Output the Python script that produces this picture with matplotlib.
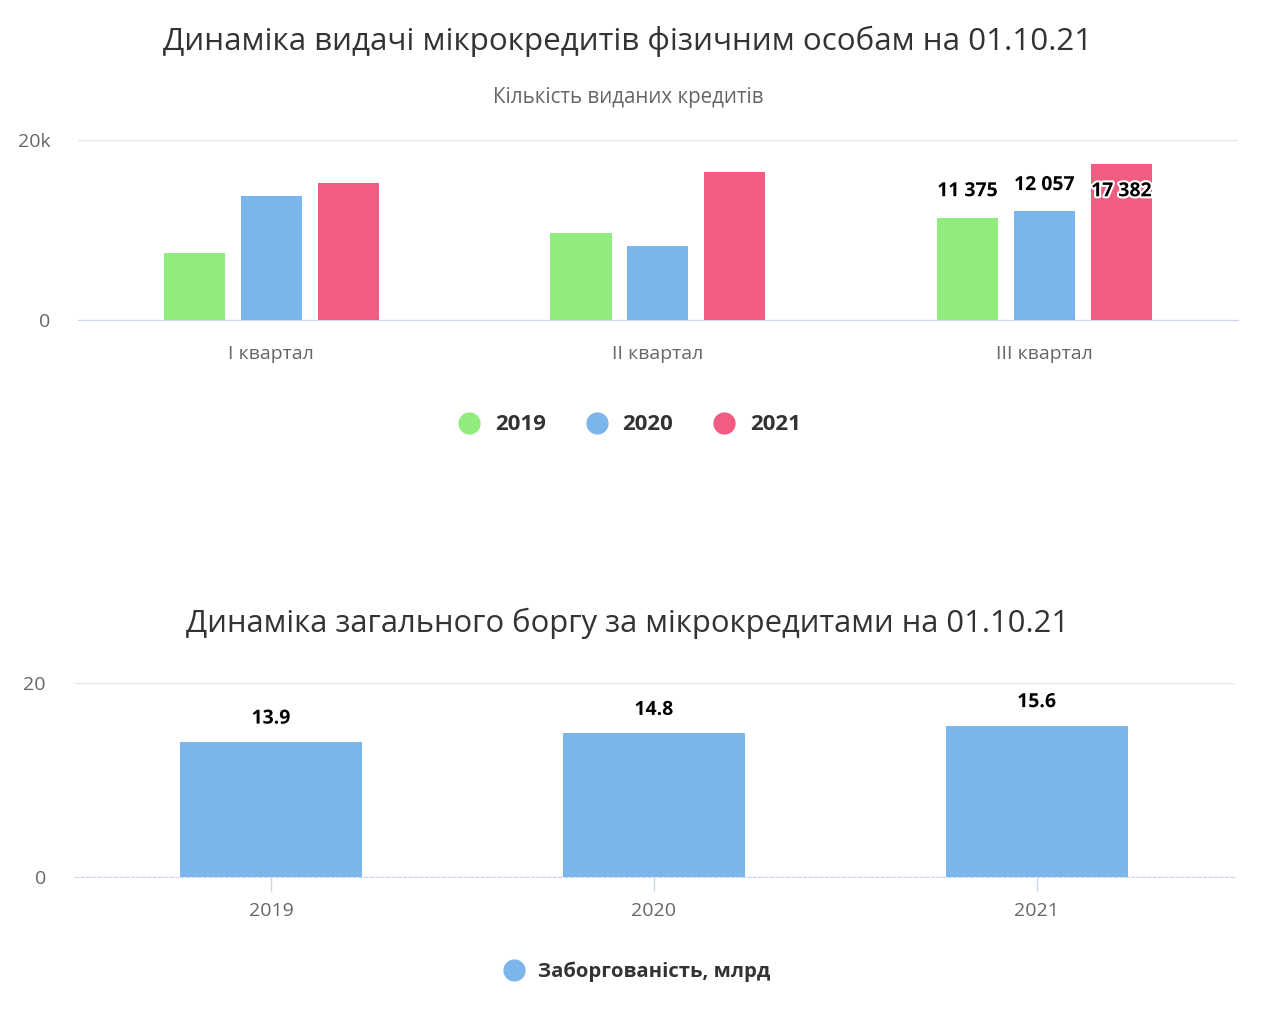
"""Microcredit dynamics: quarterly issued loans and total debt (two bar charts)."""
import matplotlib.pyplot as plt
import numpy as np
from matplotlib import patheffects
from matplotlib.lines import Line2D
from matplotlib.ticker import FuncFormatter

plt.rcParams["font.family"] = ["Open Sans", "DejaVu Sans"]

# top chart: number of issued credits per quarter
quarters = ["I квартал", "II квартал", "III квартал"]
years = ["2019", "2020", "2021"]
loans_2019 = [7400, 9650, 11375]
loans_2020 = [13750, 8200, 12057]
loans_2021 = [15200, 16400, 17382]
labelled_quarter = 2  # only the last quarter carries data labels

# bottom chart: total debt, bln
debt_years = ["2019", "2020", "2021"]
debt_values = [13.9, 14.8, 15.6]

colors = ["#90ed7d", "#7cb5ec", "#f15c80"]
grid_color = "#e6e6e6"
axis_color = "#ccd6eb"
tick_text = "#666666"
outline = [patheffects.withStroke(linewidth=3, foreground="white")]
title_x = 628 / 1280


def fmt_k(v, _pos):
    return f"{int(v / 1000)}k" if v else "0"


def fmt_space(v):
    return f"{v:,}".replace(",", " ")


fig = plt.figure(figsize=(12.8, 10.29), dpi=100)

# ---------- top chart ----------
ax1 = fig.add_axes([0.061, 0.689, 0.906, 0.175])
x = np.arange(len(quarters))
width = 0.158
step = 0.199
series = [loans_2019, loans_2020, loans_2021]
ymax = 20000
for i, (vals, col) in enumerate(zip(series, colors)):
    pos = x + (i - 1) * step
    ax1.bar(pos, vals, width=width, color=col, zorder=3)
    v = vals[labelled_quarter]
    p = pos[labelled_quarter]
    # a label that would not fit under the top gridline goes inside the bar
    dy = -20 if v + 4000 > ymax else 19
    ax1.annotate(fmt_space(v), (p, v), xytext=(0, dy), textcoords="offset points",
                 ha="center", va="center", fontsize=14, fontweight="bold",
                 color="black", path_effects=outline, zorder=5)

ax1.set_xlim(-0.5, len(quarters) - 0.5)
ax1.set_ylim(0, ymax)
ax1.set_yticks([0, ymax])
ax1.yaxis.set_major_formatter(FuncFormatter(fmt_k))
ax1.set_xticks(x)
ax1.set_xticklabels(quarters)
ax1.grid(axis="y", color=grid_color, linewidth=1, zorder=0)
for s in ["top", "right", "left"]:
    ax1.spines[s].set_visible(False)
ax1.spines["bottom"].set_color(axis_color)
ax1.tick_params(axis="y", length=0, pad=20, labelsize=14, labelcolor=tick_text)
ax1.tick_params(axis="x", length=0, pad=18, labelsize=14, labelcolor=tick_text)

fig.text(title_x, 1 - 41 / 1029, "Динаміка видачі мікрокредитів фізичним особам на 01.10.21",
         ha="center", va="center", fontsize=22.6, color="#333333")
fig.text(title_x, 1 - 97 / 1029, "Кількість виданих кредитів",
         ha="center", va="center", fontsize=14.8, color="#666666")

handles = [Line2D([], [], marker="o", linestyle="none", markersize=15,
                  markerfacecolor=c, markeredgecolor=c) for c in colors]
leg1 = fig.legend(handles, years, loc="center", bbox_to_anchor=(624 / 1280, 1 - 425 / 1029),
                  ncol=3, frameon=False, handletextpad=0.15, columnspacing=1.3,
                  prop={"size": 16, "weight": "bold"})
for t in leg1.get_texts():
    t.set_color("#333333")

# ---------- bottom chart ----------
ax2 = fig.add_axes([75 / 1280, 0.1477, 1160 / 1280, 0.1885])
xb = np.arange(len(debt_years))
ax2.bar(xb, debt_values, width=0.476, color=colors[1], zorder=3)
for p, v in zip(xb, debt_values):
    ax2.annotate(f"{v}", (p, v), xytext=(0, 17), textcoords="offset points",
                 ha="center", va="center", fontsize=14, fontweight="bold",
                 color="black", path_effects=outline, zorder=5)
ax2.set_xlim(-0.512, len(debt_years) - 0.482)
ax2.set_ylim(0, 20)
ax2.set_yticks([0, 20])
ax2.set_xticks(xb)
ax2.set_xticklabels(debt_years)
ax2.grid(axis="y", color=grid_color, linewidth=1, zorder=0)
for s in ["top", "right", "left"]:
    ax2.spines[s].set_visible(False)
ax2.spines["bottom"].set_color(axis_color)
ax2.spines["bottom"].set_linestyle((0, (3, 2)))
ax2.tick_params(axis="y", length=0, pad=21, labelsize=14, labelcolor=tick_text)
ax2.tick_params(axis="x", length=10, width=1, color=axis_color, pad=8,
                labelsize=14, labelcolor=tick_text)

fig.text(title_x, 1 - 623 / 1029, "Динаміка загального боргу за мікрокредитами на 01.10.21",
         ha="center", va="center", fontsize=22.35, color="#333333")

h2 = [Line2D([], [], marker="o", linestyle="none", markersize=15,
             markerfacecolor=colors[1], markeredgecolor=colors[1])]
leg2 = fig.legend(h2, ["Заборгованість, млрд"], loc="center",
                  bbox_to_anchor=(632 / 1280, 1 - 972 / 1029), frameon=False,
                  handletextpad=0.2, prop={"size": 14.6, "weight": "bold"})
for t in leg2.get_texts():
    t.set_color("#333333")

fig.savefig("out.png", dpi=100, facecolor="white")
plt.close(fig)
